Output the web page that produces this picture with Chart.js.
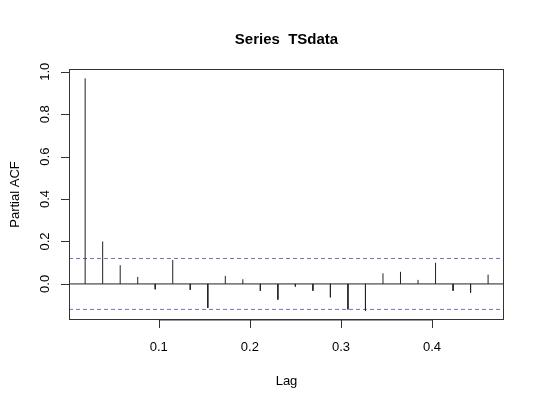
<!DOCTYPE html>
<html><head><meta charset="utf-8">
<script src="https://cdn.jsdelivr.net/npm/chart.js@4"></script>
<style>html,body{margin:0;padding:0;background:#fff}#w{width:540px;height:407px}</style>
</head><body><div id="w"><canvas id="c"></canvas></div>
<script>
const lags = Array.from({length:24},(_,i)=>(i+1)/52);
const pacf = [0.969,0.200,0.088,0.033,-0.025,0.113,-0.028,-0.113,0.038,0.022,-0.032,-0.074,
              -0.012,-0.032,-0.063,-0.120,-0.126,0.050,0.057,0.019,0.100,-0.032,-0.041,0.044];
const ciLimit = 0.12;
const xTicks = [0.1,0.2,0.3,0.4];
const yTicks = [0.0,0.2,0.4,0.6,0.8,1.0];

const spikeData = [];
lags.forEach((l,i)=>{spikeData.push({x:l,y:0},{x:l,y:pacf[i]},{x:l,y:null});});
const xMin=0.0015,xMax=0.479,yMin=-0.170,yMax=1.013;

const rAxes = {id:'rAxes',afterDraw(ch){
  const c=ch.ctx,a=ch.chartArea,xs=ch.scales.x,ys=ch.scales.y;
  c.save();c.strokeStyle='#333';c.lineWidth=1;
  c.strokeRect(a.left+0.5,a.top+0.5,a.right-a.left-1,a.bottom-a.top-1);
  c.fillStyle='#000';c.font='13px "Liberation Sans", Arial';
  c.beginPath();
  const x1=xs.getPixelForValue(xTicks[0]),x2=xs.getPixelForValue(xTicks[xTicks.length-1]);
  c.moveTo(x1,a.bottom);c.lineTo(x2,a.bottom);
  xTicks.forEach(t=>{const p=Math.round(xs.getPixelForValue(t))+0.5;c.moveTo(p,a.bottom);c.lineTo(p,a.bottom+8);});
  yTicks.forEach(t=>{const p=Math.round(ys.getPixelForValue(t))+0.5;c.moveTo(a.left,p);c.lineTo(a.left-8,p);});
  c.stroke();
  c.textAlign='center';c.textBaseline='middle';
  xTicks.forEach(t=>c.fillText(t.toFixed(1),xs.getPixelForValue(t),347));
  yTicks.forEach(t=>{c.save();c.translate(45,ys.getPixelForValue(t));c.rotate(-Math.PI/2);c.fillText(t.toFixed(1),0,0);c.restore();});
  c.fillText('Lag',(a.left+a.right)/2,381);
  c.save();c.translate(15,(a.top+a.bottom)/2);c.rotate(-Math.PI/2);c.fillText('Partial ACF',0,0);c.restore();
  c.font='bold 15px "Liberation Sans", Arial';
  c.fillText('Series  TSdata',(a.left+a.right)/2,40);
  c.restore();
}};

new Chart(document.getElementById('c'),{
  type:'line',
  data:{datasets:[
    {data:spikeData,borderColor:'#222',borderWidth:1,pointRadius:0,spanGaps:false},
    {data:[{x:xMin,y:0},{x:xMax,y:0}],borderColor:'#222',borderWidth:1,pointRadius:0},
    {data:[{x:xMin,y:ciLimit},{x:xMax,y:ciLimit}],borderColor:'#6a78b0',borderDash:[4,3],borderWidth:1,pointRadius:0},
    {data:[{x:xMin,y:-ciLimit},{x:xMax,y:-ciLimit}],borderColor:'#6a78b0',borderDash:[4,3],borderWidth:1,pointRadius:0}
  ]},
  options:{responsive:true,maintainAspectRatio:false,animation:false,
    layout:{padding:{left:69,right:36,top:69,bottom:87}},
    plugins:{legend:{display:false},tooltip:{enabled:false}},
    scales:{x:{type:'linear',min:xMin,max:xMax,display:false},y:{type:'linear',min:yMin,max:yMax,display:false}}},
  plugins:[rAxes]
});
</script></body></html>
